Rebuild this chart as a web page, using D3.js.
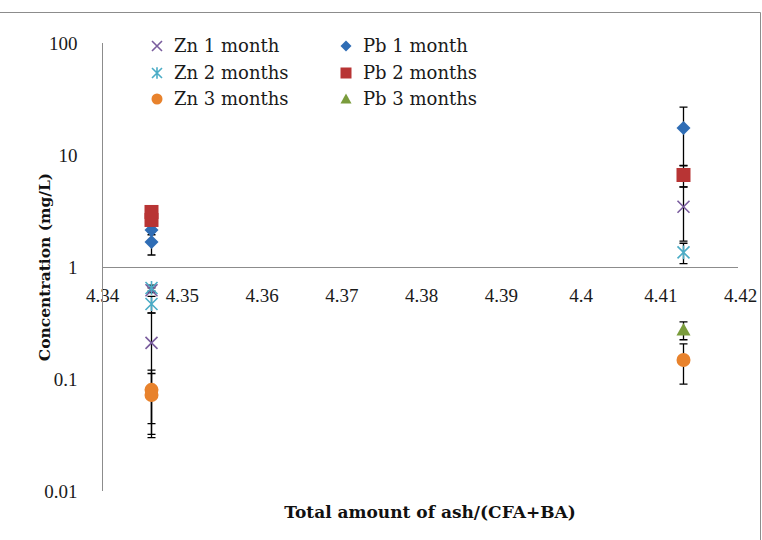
<!DOCTYPE html>
<html>
<head>
<meta charset="utf-8">
<script src="https://cdn.jsdelivr.net/npm/d3@7"></script>
<style>
  html, body { margin: 0; padding: 0; background: #fff; }
  svg { display: block; }
</style>
</head>
<body>
<svg id="chart" width="762" height="540"></svg>
<script>
// Sample positions on the x axis (ash ratio) and axis tick values
const samplePos = [4.3461, 4.4129];
const xTicks = [4.34, 4.35, 4.36, 4.37, 4.38, 4.39, 4.40, 4.41, 4.42];
const xTickLabels = ["4.34", "4.35", "4.36", "4.37", "4.38", "4.39", "4.4", "4.41", "4.42"];
const yTicks = [0.01, 0.1, 1, 10, 100];
const yTickLabels = ["0.01", "0.1", "1", "10", "100"];

// Concentrations (mg/L) with error bar half-widths: [x index, value, error]
const zn1Month  = [[0, 0.62, 0.03], [0, 0.21, 0.18], [1, 3.45, 1.75]];
const zn2Months = [[0, 0.65, 0.04], [0, 0.467, 0.08], [1, 1.35, 0.28]];
const zn3Months = [[0, 0.080, 0.04], [0, 0.072, 0.04], [1, 0.148, 0.058]];
const pb1Month  = [[0, 2.14, 0.2], [0, 1.67, 0.39], [1, 17.4, 9.4]];
const pb2Months = [[0, 3.10, 0.2], [0, 2.63, 0.2], [1, 6.63, 1.45]];
const pb3Months = [[1, 0.274, 0.05]];

const seriesNames = ["Zn 1 month", "Zn 2 months", "Zn 3 months", "Pb 1 month", "Pb 2 months", "Pb 3 months"];

const series = [
  { name: seriesNames[0], data: zn1Month,  shape: "x",        color: "#7a5d9e" },
  { name: seriesNames[1], data: zn2Months, shape: "star",     color: "#4bacc6" },
  { name: seriesNames[2], data: zn3Months, shape: "circle",   color: "#e8822c" },
  { name: seriesNames[3], data: pb1Month,  shape: "diamond",  color: "#2f6db5" },
  { name: seriesNames[4], data: pb2Months, shape: "square",   color: "#b83434" },
  { name: seriesNames[5], data: pb3Months, shape: "triangle", color: "#7a9c3c" }
];

const svg = d3.select("#chart");
const serif = "'DejaVu Serif', serif";
const serifNarrow = "'Liberation Serif', serif";

const x = d3.scaleLinear().domain([4.34, 4.42]).range([102, 740]);
const y = d3.scaleLog().domain([0.01, 100]).range([491, 43]);

// outer chart frame (top and right edges)
svg.append("path")
  .attr("d", "M0,12.5H760.5V540")
  .attr("fill", "none")
  .attr("stroke", "#8c8c8c")
  .attr("stroke-width", 1);

// x axis sits at y = 1 on the log scale
const xAxis = d3.axisBottom(x)
  .tickValues(xTicks)
  .tickFormat((d, i) => xTickLabels[i])
  .tickSize(0)
  .tickPadding(22);
const gx = svg.append("g")
  .attr("transform", `translate(0,${y(1)})`)
  .call(xAxis);
gx.select(".domain").attr("stroke", "#8c8c8c").attr("d", `M${x(4.34)},0.5H${x(4.42) - 2}`);
gx.selectAll("text")
  .attr("font-family", serifNarrow)
  .attr("font-size", 19)
  .attr("fill", "#1a1a1a");

const yAxis = d3.axisLeft(y)
  .tickValues(yTicks)
  .tickFormat((d, i) => yTickLabels[i])
  .tickSize(0)
  .tickPadding(25);
const gy = svg.append("g")
  .attr("transform", `translate(${x(4.34) + 0.5},0)`)
  .call(yAxis);
gy.select(".domain").attr("stroke", "#8c8c8c").attr("d", `M0,${y(100)}V${y(0.01)}`);
gy.selectAll("text")
  .attr("font-family", serifNarrow)
  .attr("font-size", 19)
  .attr("fill", "#1a1a1a")
  .attr("dy", "0.34em");

// axis titles
svg.append("text")
  .attr("x", 430).attr("y", 518)
  .attr("text-anchor", "middle")
  .attr("font-family", serif)
  .attr("font-weight", "bold")
  .attr("font-size", 17)
  .attr("fill", "#111")
  .text("Total amount of ash/(CFA+BA)");

svg.append("text")
  .attr("transform", `translate(50,${y(1)}) rotate(-90)`)
  .attr("text-anchor", "middle")
  .attr("font-family", serif)
  .attr("font-weight", "bold")
  .attr("font-size", 15.5)
  .attr("fill", "#111")
  .text("Concentration (mg/L)");

// marker drawing
function drawMarker(g, shape, color, s) {
  const h = s / 2;
  if (shape === "x") {
    g.append("path").attr("d", `M${-h},${-h}L${h},${h}M${-h},${h}L${h},${-h}`)
      .attr("stroke", color).attr("stroke-width", 1.6).attr("fill", "none");
  } else if (shape === "star") {
    g.append("path").attr("d", `M${-h},${-h}L${h},${h}M${-h},${h}L${h},${-h}M0,${-h * 1.15}V${h * 1.15}`)
      .attr("stroke", color).attr("stroke-width", 1.6).attr("fill", "none");
  } else if (shape === "circle") {
    g.append("circle").attr("r", h).attr("fill", color);
  } else if (shape === "diamond") {
    g.append("path").attr("d", `M0,${-h}L${h},0L0,${h}L${-h},0Z`).attr("fill", color);
  } else if (shape === "square") {
    g.append("rect").attr("x", -h).attr("y", -h).attr("width", s).attr("height", s).attr("fill", color);
  } else if (shape === "triangle") {
    g.append("path").attr("d", `M0,${-h}L${h},${h * 0.8}L${-h},${h * 0.8}Z`).attr("fill", color);
  }
}

const markerSize = { x: 12, star: 12, circle: 14, diamond: 14, square: 14, triangle: 14 };

// error bars behind the markers
const eb = svg.append("g").attr("stroke", "#000").attr("stroke-width", 1.3).attr("fill", "none");
series.forEach(s => {
  s.data.forEach(([xi, v, e]) => {
    const cx = Math.round(x(samplePos[xi])) + 0.5;
    const yt = y(v + e), yb = y(v - e);
    eb.append("path").attr("d", `M${cx},${yt}V${yb}M${cx - 4},${yt}H${cx + 4}M${cx - 4},${yb}H${cx + 4}`);
  });
});

// markers
series.forEach(s => {
  const g = svg.append("g");
  s.data.forEach(([xi, v]) => {
    const m = g.append("g").attr("transform", `translate(${Math.round(x(samplePos[xi])) + 0.5},${y(v)})`);
    drawMarker(m, s.shape, s.color, markerSize[s.shape]);
  });
});

// legend
const legendCols = [157, 346];
const legendRows = [46, 73, 99];
const legendOrder = [0, 3, 1, 4, 2, 5];
legendOrder.forEach((si, k) => {
  const s = series[si];
  const lx = legendCols[k % 2], ly = legendRows[Math.floor(k / 2)];
  const g = svg.append("g").attr("transform", `translate(${lx},${ly})`);
  drawMarker(g, s.shape, s.color, s.shape === "x" || s.shape === "star" ? 10 : 11);
  svg.append("text")
    .attr("x", lx + 17).attr("y", ly)
    .attr("dy", "0.35em")
    .attr("font-family", serif)
    .attr("font-size", 18)
    .attr("fill", "#1a1a1a")
    .text(s.name);
});
</script>
</body>
</html>
